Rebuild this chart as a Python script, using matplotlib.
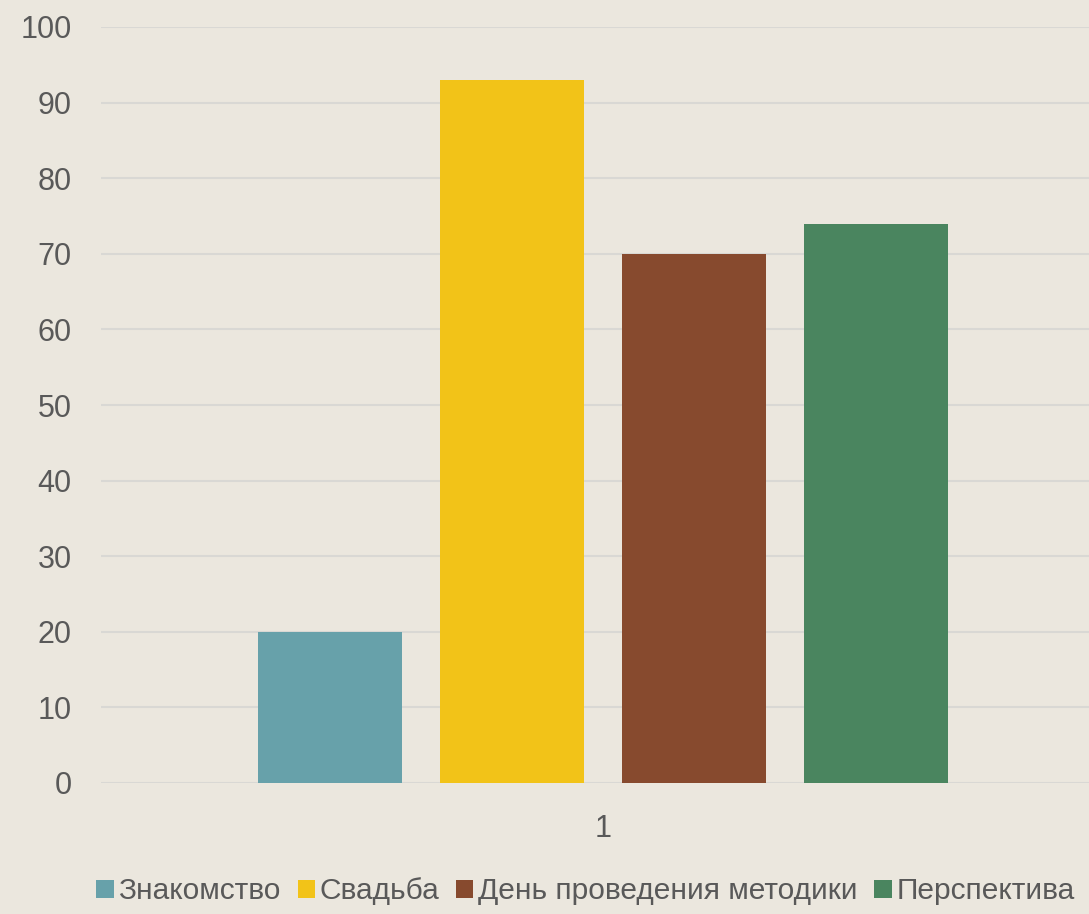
import matplotlib.pyplot as plt
import numpy as np

# data
series = ['Знакомство', 'Свадьба', 'День проведения методики', 'Перспектива']
values = [20, 93, 70, 74]
colors = ['#67A1AA', '#F2C318', '#874A2E', '#4A855F']
category = ['1']

plt.rcParams['font.family'] = ['Liberation Sans', 'DejaVu Sans']
bg = '#EBE7DE'
txt = '#595959'

fig = plt.figure(figsize=(10.89, 9.14), dpi=100, facecolor=bg)
ax = fig.add_axes([101 / 1089, 1 - 783 / 914, 1004 / 1089, 756 / 914])
ax.set_facecolor(bg)

width = 0.1434
offsets = [-0.2719, -0.0906, 0.0906, 0.2719]
x = np.arange(len(category))
for name, v, c, off in zip(series, values, colors, offsets):
    ax.bar(x + off, [v], width=width, color=c, label=name, zorder=3)

ax.set_xlim(-0.5, 0.5)
ax.set_ylim(0, 100)
ax.set_yticks(range(0, 101, 10))
ax.set_xticks(x)
ax.set_xticklabels(category)
ax.yaxis.grid(True, color='#D9D8D4', linewidth=1.5, zorder=0)
ax.set_axisbelow(True)
for s in ax.spines.values():
    s.set_visible(False)
ax.tick_params(axis='both', length=0, labelsize=22, colors=txt)
ax.tick_params(axis='y', pad=21)
ax.tick_params(axis='x', pad=22)

leg = fig.legend(loc='lower center', bbox_to_anchor=(0.5377, -0.02), ncol=4,
                 frameon=False, fontsize=21.5, handlelength=0.58,
                 handleheight=0.58, handletextpad=0.16, columnspacing=0.56)
for t in leg.get_texts():
    t.set_color(txt)

fig.savefig('out.png', dpi=100, facecolor=bg)
